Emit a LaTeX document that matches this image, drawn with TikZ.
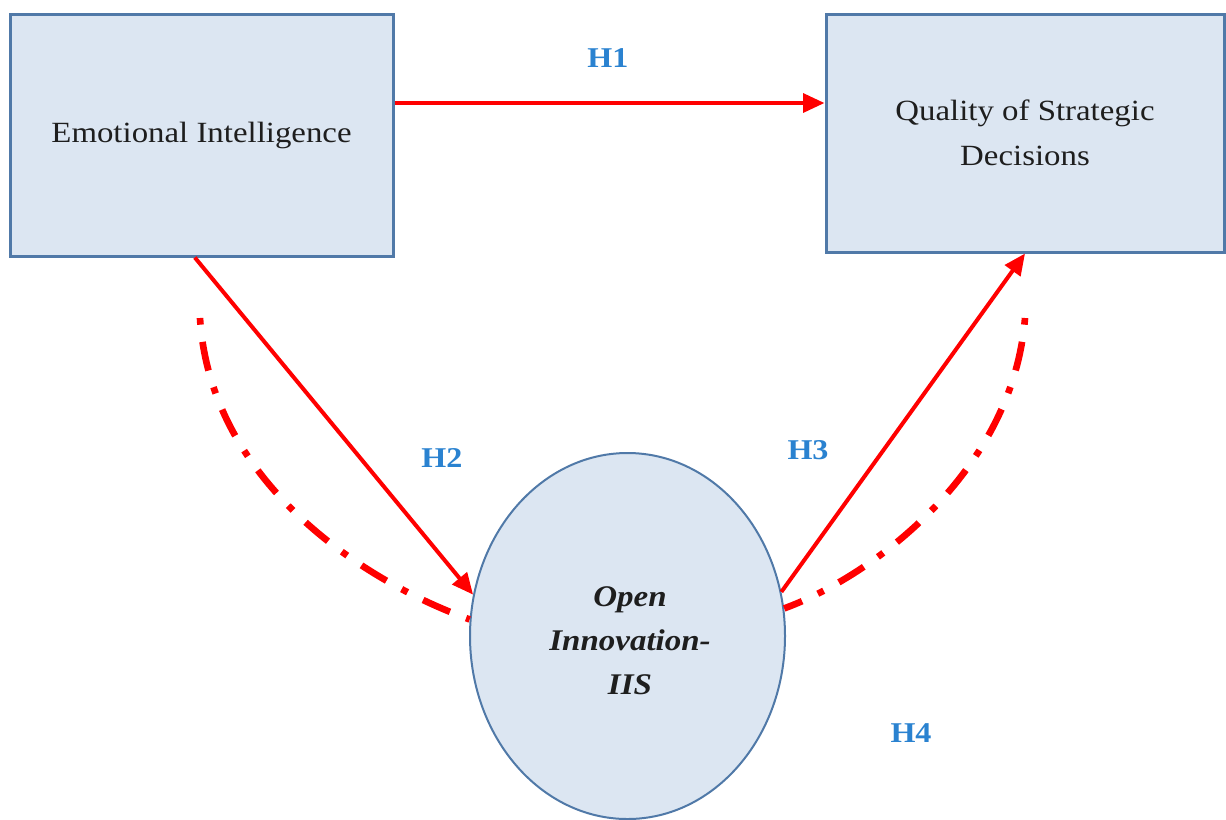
\documentclass[tikz,border=0pt]{standalone}
\usepackage{fontspec}
\setmainfont[FakeStretch=1.12]{Liberation Serif}
\usetikzlibrary{arrows.meta,shapes.geometric}
\definecolor{boxfill}{HTML}{DCE6F2}
\definecolor{boxline}{HTML}{5079A8}
\definecolor{hred}{HTML}{FF0000}
\definecolor{hblue}{HTML}{2A82D0}
\definecolor{txt}{HTML}{1E1E1E}
\tikzset{
  varbox/.style={draw=boxline,line width=2.25pt,fill=boxfill,rectangle,inner sep=0pt,align=center,text=txt,font=\fontsize{22}{34}\selectfont},
  medbox/.style={draw=boxline,line width=1.5pt,fill=boxfill,ellipse,inner sep=0pt},
  medtext/.style={align=center,text=txt,font=\fontsize{22.5}{33}\selectfont\bfseries\itshape\addfontfeatures{FakeStretch=1.1}},
  hyp/.style={text=hblue,font=\fontsize{21.5}{24}\selectfont\bfseries},
  harrow/.style={draw=hred,line width=3pt,-{Triangle[length=16pt,width=14pt]}},
  medpath/.style={draw=hred,line width=5pt,dash pattern=on 5pt off 13pt on 22pt off 13pt}
}
\begin{document}
\begin{tikzpicture}[x=0.75pt,y=-0.75pt]
\useasboundingbox (0,0) rectangle (1226,819);
\node[varbox,minimum width=287.25pt,minimum height=181.5pt] (ei) at (201.5,135) {Emotional Intelligence};
\node[varbox,minimum width=298.5pt,minimum height=178.5pt] (q) at (1025,133) {Quality of Strategic\\Decisions};
\node[medbox,minimum width=236.25pt,minimum height=274.5pt] (oi) at (627.5,636) {};
\node[medtext] (oit) at (630,641) {Open\\Innovation-\\IIS};
\coordinate (ls) at (200,318);
\coordinate (rs) at (1025,318);
\draw[harrow] ([yshift=24pt]ei.east) -- ([yshift=24pt]ei.east -| q.west);
\draw[harrow] ([xshift=-5pt]ei.south) -- (oi.165);
\draw[harrow] (oi.16) -- (q.south);
\draw[medpath] (ls) .. controls (210,480) and (360,580) .. (oi.174);
\draw[medpath] (rs) .. controls (1013,470) and (875,575) .. (oi.10);
\node[hyp] (h1) at (608,58) {H1};
\node[hyp] (h2) at (442,458) {H2};
\node[hyp] (h3) at (808,450) {H3};
\node[hyp] (h4) at (911,733) {H4};
\end{tikzpicture}
\end{document}
